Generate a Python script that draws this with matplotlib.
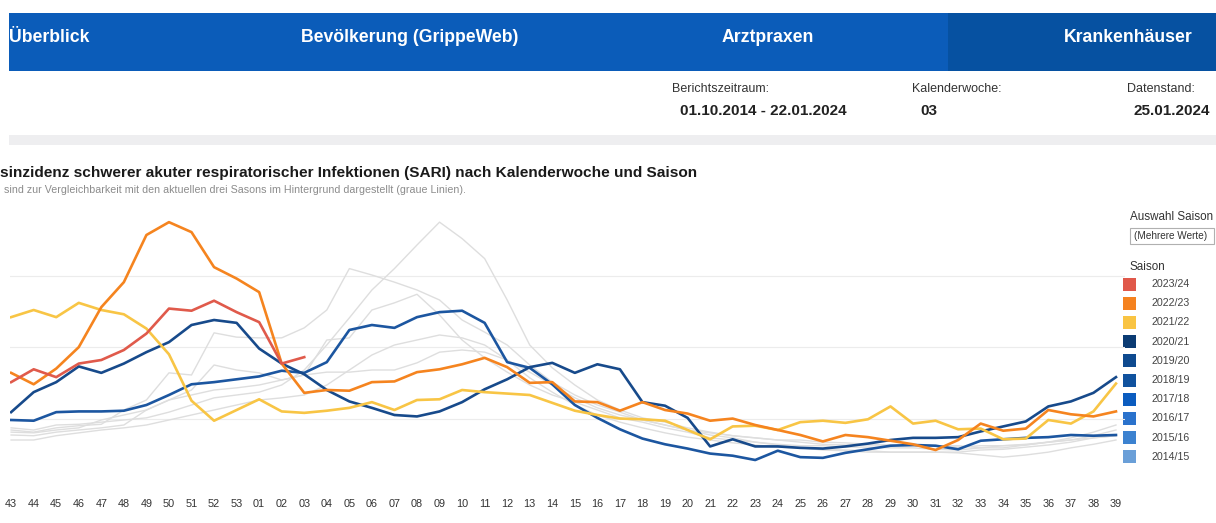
import matplotlib.pyplot as plt
from matplotlib.patches import Rectangle

plt.rcParams['font.family'] = ['Liberation Sans', 'DejaVu Sans']

# calendar weeks 43..53, 01..39
weeks = [f"{w:02d}" for w in list(range(43, 54)) + list(range(1, 40))]

# SARI incidence per season (per 100.000)
s2023 = [15.1, 16.9, 15.8, 17.7, 18.2, 19.6, 21.9, 25.4, 25.1, 26.5, 24.9, 23.5, 17.7, 18.6]

s2022 = [16.4, 14.8, 17.0, 20.0, 25.6, 29.1, 35.7, 37.5, 36.1, 31.2, 29.6, 27.7, 17.7, 13.6,
         14.0, 13.9, 15.1, 15.2, 16.5, 16.9, 17.6, 18.5, 17.2, 15.0, 15.1, 12.4, 12.3, 11.1,
         12.3, 11.2, 10.7, 9.7, 10.0, 9.1, 8.4, 7.7, 6.8, 7.7, 7.4, 6.9, 6.4, 5.6, 7.0, 9.3,
         8.3, 8.6, 11.2, 10.6, 10.3, 11.0]

s2021 = [24.2, 25.2, 24.2, 26.2, 25.2, 24.6, 22.6, 19.0, 12.5, 9.7, 11.2, 12.7, 11.0, 10.8,
         11.1, 11.5, 12.3, 11.2, 12.6, 12.7, 14.0, 13.7, 13.5, 13.3, 12.2, 11.1, 10.5, 10.0,
         9.9, 9.7, 8.4, 7.1, 8.9, 9.0, 8.4, 9.5, 9.7, 9.4, 9.9, 11.7, 9.3, 9.7, 8.5, 8.6,
         7.1, 7.2, 9.8, 9.3, 11.0, 14.9]

s2020 = [10.9, 13.7, 15.1, 17.3, 16.4, 17.7, 19.3, 20.7, 23.1, 23.8, 23.4, 19.8, 17.7, 16.2,
         14.0, 12.4, 11.5, 10.5, 10.3, 11.0, 12.3, 14.1, 15.5, 17.2, 17.8, 16.4, 17.6, 16.9,
         12.3, 11.8, 10.1, 6.1, 7.1, 6.1, 6.1, 5.9, 5.8, 6.1, 6.5, 7.0, 7.3, 7.3, 7.4, 8.2,
         8.9, 9.6, 11.7, 12.4, 13.6, 15.8]

s2019 = [9.8, 9.7, 10.9, 11.0, 11.0, 11.1, 11.9, 13.3, 14.8, 15.1, 15.5, 15.9, 16.7, 16.4,
         17.9, 22.4, 23.1, 22.7, 24.2, 24.9, 25.1, 23.4, 17.9, 17.1, 14.8, 11.9, 10.1, 8.5,
         7.2, 6.4, 5.8, 5.1, 4.8, 4.2, 5.5, 4.6, 4.5, 5.2, 5.7, 6.2, 6.3, 6.2, 5.7, 6.9,
         7.1, 7.3, 7.4, 7.7, 7.6, 7.7]

# older seasons, drawn as grey background lines
s2018 = [7.7, 7.6, 8.1, 8.4, 8.7, 9.1, 11.2, 12.6, 14.0, 17.5, 16.8, 16.4, 15.4, 16.1,
         16.5, 16.5, 16.8, 16.8, 17.8, 19.3, 19.6, 19.3, 18.2, 16.5, 14.7, 12.9, 11.5, 10.5,
         9.8, 9.1, 8.4, 7.7, 7.3, 6.7, 6.3, 5.9, 5.6, 5.5, 5.3, 5.3, 5.3, 5.3, 5.3, 5.6,
         5.7, 6.0, 6.3, 6.7, 7.3, 7.6]

s2017 = [8.7, 8.4, 9.1, 9.2, 9.5, 9.8, 10.1, 10.9, 11.9, 12.9, 13.3, 13.7, 14.7, 16.8,
         20.3, 24.1, 28.0, 31.0, 34.3, 37.5, 35.2, 32.4, 26.6, 20.3, 17.1, 14.7, 12.6, 11.2,
         10.1, 9.5, 8.7, 8.1, 7.6, 7.3, 7.0, 6.7, 6.4, 6.3, 6.3, 6.3, 6.2, 6.2, 6.2, 5.9,
         5.9, 6.3, 6.7, 7.0, 7.6, 8.4]

s2016 = [8.4, 8.1, 8.7, 9.0, 9.2, 11.2, 12.6, 16.4, 16.1, 22.0, 21.4, 21.3, 21.3, 22.7,
         25.2, 31.0, 30.1, 29.1, 28.0, 26.6, 23.8, 22.1, 20.3, 17.5, 15.1, 13.3, 11.9, 10.9,
         9.8, 9.1, 8.4, 8.0, 7.6, 7.3, 7.0, 7.0, 6.7, 6.6, 6.4, 6.3, 6.2, 6.2, 6.0, 6.2,
         6.2, 6.4, 6.7, 7.0, 7.3, 7.6]

s2015 = [7.0, 7.0, 7.6, 8.0, 8.4, 8.7, 9.1, 9.8, 10.5, 11.2, 11.9, 12.6, 12.9, 13.3,
         14.7, 16.8, 18.9, 20.3, 21.0, 21.7, 21.3, 20.3, 18.2, 15.7, 13.7, 11.9, 10.5, 9.5,
         8.7, 8.0, 7.4, 7.0, 6.6, 6.3, 6.0, 5.9, 5.7, 5.6, 5.5, 5.3, 5.3, 5.3, 5.2, 4.9,
         4.6, 4.9, 5.3, 5.9, 6.4, 7.0]

s2014 = [8.1, 8.0, 8.4, 8.7, 9.8, 10.5, 11.2, 12.6, 13.3, 14.0, 14.3, 14.7, 15.4, 16.1,
         21.0, 21.3, 25.2, 26.2, 27.4, 24.5, 21.0, 18.5, 16.5, 14.7, 13.3, 12.3, 11.2, 10.1,
         9.5, 8.7, 8.1, 7.3, 7.0, 6.7, 6.4, 6.2, 6.2, 6.0, 6.0, 5.9, 5.9, 5.7, 5.6, 5.9,
         6.2, 6.3, 6.7, 7.3, 8.1, 9.1]

seasons = ["2023/24", "2022/23", "2021/22", "2020/21", "2019/20",
           "2018/19", "2017/18", "2016/17", "2015/16", "2014/15"]
season_colors = ["#e0584a", "#f5821f", "#f9c443", "#0b3b73", "#0e4a8f",
                 "#10529e", "#0b5cbf", "#2a72cc", "#3c82d0", "#6a9fd8"]

fig = plt.figure(figsize=(12.16, 5.23), dpi=100)

# page background: navigation bar, info row, title (pixel coordinates)
bg = fig.add_axes([0, 0, 1, 1])
bg.set_xlim(0, 1216)
bg.set_ylim(523, 0)
bg.axis('off')

bg.add_patch(Rectangle((9, 13), 1207, 58, color="#0b5cb9", lw=0))
bg.add_patch(Rectangle((948, 13), 268, 58, color="#0651a1", lw=0))
for label, xpos, ha in [("Überblick", 9, "left"), ("Bevölkerung (GrippeWeb)", 410, "center"),
                        ("Arztpraxen", 768, "center"), ("Krankenhäuser", 1128, "center")]:
    bg.text(xpos, 38, label, color="white", fontsize=12.7, fontweight="bold",
            ha=ha, va="center")

bg.text(672, 89, "Berichtszeitraum:", fontsize=9, color="#333333", va="center")
bg.text(680, 111, "01.10.2014 - 22.01.2024", fontsize=11, fontweight="bold",
        color="#222222", va="center")
bg.text(912, 89, "Kalenderwoche:", fontsize=9, color="#333333", va="center")
bg.text(920, 111, "03", fontsize=11, fontweight="bold", color="#222222", va="center")
bg.text(1127, 89, "Datenstand:", fontsize=9, color="#333333", va="center")
bg.text(1133, 111, "25.01.2024", fontsize=11, fontweight="bold", color="#222222", va="center")

bg.add_patch(Rectangle((9, 135), 1207, 10, color="#eeeef0", lw=0))

bg.text(0, 173, "sinzidenz schwerer akuter respiratorischer Infektionen (SARI) nach "
        "Kalenderwoche und Saison", fontsize=11.1, fontweight="bold", color="#1a1a1a",
        va="center")
bg.text(4, 190, "sind zur Vergleichbarkeit mit den aktuellen drei Sasons im Hintergrund "
        "dargestellt (graue Linien).", fontsize=7.7, color="#8c8c8c", va="center")

# legend panel
bg.text(1130, 217, "Auswahl Saison", fontsize=8.4, color="#333333", va="center")
bg.add_patch(Rectangle((1130, 228), 84, 16, facecolor="white", edgecolor="#b0b0b0", lw=0.8))
bg.text(1134, 236, "(Mehrere Werte)", fontsize=7.2, color="#333333", va="center")
bg.text(1130, 267, "Saison", fontsize=8.4, color="#333333", va="center")
for k, (name, col) in enumerate(zip(seasons, season_colors)):
    yy = 284 + k * 19.2
    bg.add_patch(Rectangle((1123, yy - 6.5), 13, 13, color=col, lw=0))
    bg.text(1152, yy, name, fontsize=7.7, color="#444444", va="center")

# chart
ax = fig.add_axes([10 / 1216, 33 / 523, 1115 / 1216, 290 / 523])
ax.patch.set_alpha(0)
x = list(range(len(weeks)))

for grey in [s2018, s2017, s2016, s2015, s2014]:
    ax.plot(x, grey, color="#dedede", lw=1.0, zorder=2)

ax.plot(x, s2019, color="#1c56a0", lw=1.9, zorder=3)
ax.plot(x, s2020, color="#174a8b", lw=1.9, zorder=3)
ax.plot(x, s2021, color="#f8c545", lw=1.9, zorder=4)
ax.plot(x, s2022, color="#f5841f", lw=1.9, zorder=5)
ax.plot(x[:len(s2023)], s2023, color="#e05a4b", lw=1.9, zorder=6)

ax.set_xlim(-0.05, 49.4)
ax.set_ylim(0, 40.6)
ax.set_yticks([10, 20, 30])
ax.set_yticklabels([])
ax.yaxis.grid(True, color="#ececec", lw=0.8)
ax.set_axisbelow(True)
ax.set_xticks(x)
ax.set_xticklabels(weeks, fontsize=7.8, color="#333333")
ax.tick_params(axis="both", length=0)
ax.tick_params(axis="x", pad=6.5)
for sp in ax.spines.values():
    sp.set_visible(False)

fig.savefig("out.png", dpi=100)
